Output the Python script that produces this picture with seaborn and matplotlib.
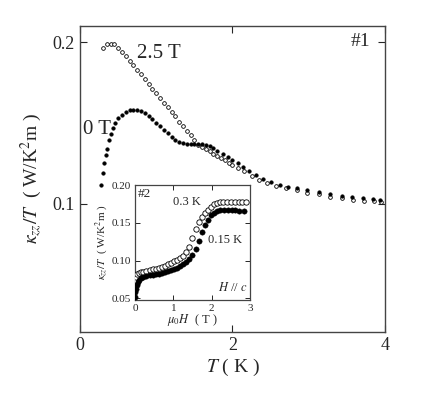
import matplotlib
matplotlib.use('Agg')
import matplotlib.pyplot as plt
import seaborn as sns

# main panel: kappa_zz/T vs T
t_25 = [0.30, 0.35, 0.40, 0.45, 0.50, 0.55, 0.60, 0.65, 0.70, 0.75, 0.80, 0.85,
        0.90, 0.95, 1.00, 1.05, 1.10, 1.15, 1.20, 1.25, 1.30, 1.35, 1.40, 1.45,
        1.50, 1.55, 1.60, 1.65, 1.70, 1.75, 1.80, 1.85, 1.90, 1.95, 2.00, 2.07,
        2.15, 2.25, 2.35, 2.45, 2.57, 2.70, 2.84, 2.98, 3.13, 3.28, 3.43, 3.58,
        3.72, 3.86, 3.95]
k_25 = [0.1965, 0.1985, 0.1990, 0.1985, 0.1965, 0.1940, 0.1915, 0.1885, 0.1855,
        0.1830, 0.1800, 0.1770, 0.1740, 0.1710, 0.1683, 0.1655, 0.1625, 0.1597,
        0.1570, 0.1540, 0.1505, 0.1480, 0.1450, 0.1425, 0.1395, 0.1365, 0.1352,
        0.1340, 0.1325, 0.1310, 0.1297, 0.1283, 0.1268, 0.1253, 0.1240, 0.1222,
        0.1200, 0.1175, 0.1150, 0.1128, 0.1110, 0.1095, 0.1085, 0.1070, 0.1058,
        0.1045, 0.1035, 0.1025, 0.1018, 0.1015, 0.1012]

t_0 = [0.28, 0.30, 0.32, 0.34, 0.36, 0.38, 0.40, 0.43, 0.46, 0.50, 0.55, 0.60,
       0.65, 0.70, 0.75, 0.80, 0.85, 0.90, 0.95, 1.00, 1.05, 1.10, 1.15, 1.20,
       1.25, 1.30, 1.35, 1.40, 1.45, 1.50, 1.55, 1.60, 1.65, 1.70, 1.75, 1.80,
       1.87, 1.94, 2.00, 2.07, 2.14, 2.22, 2.31, 2.40, 2.50, 2.62, 2.73, 2.84,
       2.98, 3.13, 3.28, 3.43, 3.57, 3.71, 3.84, 3.93]
k_0 = [0.1117, 0.1190, 0.1250, 0.1300, 0.1340, 0.1395, 0.1430, 0.1470, 0.1500,
       0.1528, 0.1550, 0.1567, 0.1578, 0.1582, 0.1580, 0.1572, 0.1560, 0.1545,
       0.1525, 0.1502, 0.1480, 0.1458, 0.1435, 0.1412, 0.1395, 0.1382, 0.1374,
       0.1370, 0.1368, 0.1368, 0.1370, 0.1370, 0.1365, 0.1355, 0.1342, 0.1328,
       0.1310, 0.1290, 0.1272, 0.1250, 0.1228, 0.1205, 0.1180, 0.1155, 0.1135,
       0.1118, 0.1107, 0.1097, 0.1084, 0.1073, 0.1062, 0.1050, 0.1042, 0.1035,
       0.1030, 0.1025]

# inset: kappa_zz/T vs mu0 H
h_03 = [0.00, 0.03, 0.06, 0.10, 0.15, 0.22, 0.30, 0.38, 0.46, 0.54, 0.62, 0.70,
        0.78, 0.86, 0.94, 1.02, 1.10, 1.18, 1.26, 1.34, 1.42, 1.50, 1.58, 1.66,
        1.74, 1.82, 1.90, 1.98, 2.06, 2.14, 2.22, 2.30, 2.40, 2.50, 2.60, 2.70,
        2.80, 2.90]
k_03 = [0.0740, 0.0790, 0.0820, 0.0835, 0.0845, 0.0855, 0.0865, 0.0875, 0.0885,
        0.0895, 0.0905, 0.0918, 0.0932, 0.0950, 0.0968, 0.0990, 0.1012, 0.1038,
        0.1068, 0.1110, 0.1180, 0.1300, 0.1420, 0.1510, 0.1580, 0.1630, 0.1670,
        0.1710, 0.1745, 0.1768, 0.1775, 0.1778, 0.1778, 0.1778, 0.1778, 0.1778,
        0.1778, 0.1772]

h_015 = [0.00, 0.01, 0.02, 0.04, 0.07, 0.10, 0.15, 0.22, 0.30, 0.38, 0.46, 0.54,
         0.62, 0.70, 0.78, 0.86, 0.94, 1.02, 1.10, 1.18, 1.26, 1.34, 1.42, 1.50,
         1.58, 1.66, 1.74, 1.82, 1.90, 1.98, 2.06, 2.14, 2.22, 2.32, 2.42, 2.52,
         2.62, 2.72, 2.84]
k_015 = [0.0520, 0.0580, 0.0630, 0.0680, 0.0720, 0.0750, 0.0775, 0.0790, 0.0800,
         0.0808, 0.0815, 0.0822, 0.0830, 0.0838, 0.0848, 0.0860, 0.0875, 0.0890,
         0.0905, 0.0925, 0.0950, 0.0980, 0.1020, 0.1075, 0.1160, 0.1260, 0.1380,
         0.1470, 0.1540, 0.1600, 0.1635, 0.1655, 0.1665, 0.1668, 0.1668, 0.1668,
         0.1665, 0.1662, 0.1660]

sns.set_style('ticks')
plt.rcParams['font.family'] = ['Liberation Serif', 'DejaVu Serif']
plt.rcParams['mathtext.fontset'] = 'stix'

fig = plt.figure(figsize=(4.36, 3.95), dpi=100)
ax = fig.add_axes([0.1835, 0.1603, 0.6995, 0.7739])

sns.scatterplot(x=t_25, y=k_25, ax=ax, marker='o', s=7, facecolor='white',
                edgecolor='black', linewidth=0.6, zorder=3)
sns.scatterplot(x=t_0, y=k_0, ax=ax, marker='o', s=7, color='black',
                edgecolor='black', linewidth=0.3, zorder=3)

ax.set_xlim(0, 4)
ax.set_ylim(0.021, 0.2099)
ax.set_xticks([0, 2, 4])
ax.set_xticklabels(['0', '2', '4'])
ax.set_yticks([0.1, 0.2])
ax.set_yticklabels(['0.1', '0.2'])
ax.tick_params(direction='in', length=5, width=0.8, labelsize=13, pad=4,
               top=True, right=True)
for sp in ax.spines.values():
    sp.set_linewidth(1.0)
    sp.set_color('#444444')
ax.set_xlabel(r'$T$ ( K )', fontsize=14, labelpad=2)
ax.set_ylabel(r'$\kappa_{zz}/T$  ( W/K$^2$m )', fontsize=14, labelpad=6)

ax.text(0.75, 0.1926, '2.5 T', fontsize=15, va='center', ha='left')
ax.text(0.04, 0.146, '0 T', fontsize=15, va='center', ha='left')
ax.text(0.951, 0.948, '#1', fontsize=14, va='center', ha='right',
        transform=ax.transAxes)

# inset
axi = fig.add_axes([0.3096, 0.2405, 0.2638, 0.2911])
sns.scatterplot(x=h_03, y=k_03, ax=axi, marker='o', s=15, facecolor='white',
                edgecolor='black', linewidth=0.6, zorder=3)
sns.scatterplot(x=h_015, y=k_015, ax=axi, marker='o', s=15, color='black',
                edgecolor='black', linewidth=0.3, zorder=3)
axi.set_xlim(0, 3)
axi.set_ylim(0.048, 0.20)
axi.set_xticks([0, 1, 2, 3])
axi.set_yticks([0.05, 0.10, 0.15, 0.20])
axi.set_yticklabels(['0.05', '0.10', '0.15', '0.20'])
axi.tick_params(direction='in', length=3.5, width=0.7, labelsize=8, pad=3,
                top=True, right=True)
for sp in axi.spines.values():
    sp.set_linewidth(0.9)
    sp.set_color('#444444')
axi.set_xlabel(r'$\mu_0H$  ( T )', fontsize=9, labelpad=-1)
axi.set_ylabel(r'$\kappa_{zz}/T$  ( W/K$^2$m )', fontsize=8, labelpad=1)

axi.text(0.026, 0.92, '#2', fontsize=9.5, va='center', ha='left',
         transform=axi.transAxes)
axi.text(0.33, 0.85, '0.3 K', fontsize=9, va='center', ha='left',
         transform=axi.transAxes)
axi.text(0.635, 0.52, '0.15 K', fontsize=9, va='center', ha='left',
         transform=axi.transAxes)
axi.text(0.98, 0.11, r'$H$ // $c$', fontsize=9, va='center', ha='right',
         transform=axi.transAxes)

fig.savefig('out.png', dpi=100)
